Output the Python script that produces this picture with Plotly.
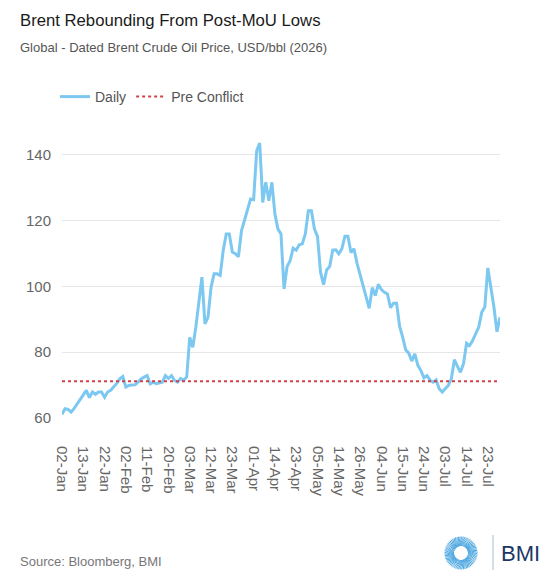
import math
import pandas as pd
import plotly.graph_objects as go

# ---------------- data ----------------
holidays = ["2026-04-03", "2026-04-06", "2026-05-04", "2026-05-25"]

daily = [
    61.1, 62.8, 62.6, 61.8, 62.9, 64.4, 65.9, 67.0, 68.4, 66.2,
    67.9, 67.2, 67.9, 67.9, 66.3, 67.9, 68.4, 69.4, 70.5, 71.9,
    72.6, 69.4, 69.9, 70.0, 70.1, 70.9, 71.9, 72.4, 72.9, 70.4,
    70.9, 70.4, 70.6, 70.9, 72.9, 72.0, 72.9, 71.4, 70.9, 72.0,
    71.4, 72.5, 84.5, 81.5, 87.6, 95.0, 102.8, 88.6, 90.6, 99.7,
    103.8, 103.8, 103.3, 110.9, 115.9, 115.9, 110.4, 109.9, 109.0, 116.9,
    119.9, 123.0, 126.5, 126.3, 141.2, 143.5, 125.5, 131.6, 126.0, 131.6,
    122.0, 117.4, 115.9, 99.2, 106.0, 107.8, 111.6, 111.0, 112.6, 112.9,
    115.9, 123.0, 123.0, 117.4, 115.2, 104.3, 100.5, 105.0, 106.0, 111.0,
    111.1, 109.9, 111.4, 115.2, 115.2, 110.3, 111.4, 107.0, 103.5, 100.5,
    97.0, 93.3, 99.6, 97.2, 100.6, 99.0, 98.2, 97.7, 93.5, 94.9,
    94.9, 87.8, 84.6, 80.7, 79.7, 77.3, 79.5, 76.0, 74.4, 72.2,
    72.9, 71.5, 70.9, 71.6, 68.9, 67.9, 68.9, 69.9, 71.9, 77.7,
    75.7, 73.9, 76.5, 82.7, 82.0, 83.5, 85.6, 87.6, 92.1, 93.7,
    105.6, 99.7, 93.7, 86.2, 90.6,
]
pre_conflict = 71.2

dates = pd.bdate_range("2026-01-02", periods=len(daily), freq="C", holidays=holidays)
labels = [d.strftime("%d-%b") for d in dates]
tick_labels = labels[::7]

# ---------------- geometry helpers ----------------
W, H = 560, 582
ML, MR, MT, MB = 62, 60, 130, 164
PW, PH = W - ML - MR, H - MT - MB


def px(x):
    return (x - ML) / PW


def py(y):
    return (H - MB - y) / PH


fig = go.Figure()
fig.add_trace(go.Scatter(
    x=labels, y=daily, mode="lines", name="Daily",
    line=dict(color="#7cc8f0", width=3),
))
fig.add_trace(go.Scatter(
    x=labels, y=[pre_conflict] * len(labels), mode="lines", name="Pre Conflict",
    line=dict(color="#d2404a", width=2, dash="dot"),
))

shapes = []
# BMI logo (sunburst)
cx, cy = 461, 553
n = 64
for k in range(n):
    a = 2 * math.pi * k / n
    r0, r1 = 7, 16.5
    x0, y0 = cx + r0 * math.cos(a), cy + r0 * math.sin(a)
    x1, y1 = cx + r1 * math.cos(a + 0.35), cy + r1 * math.sin(a + 0.35)
    shapes.append(dict(type="line", xref="paper", yref="paper",
                       x0=px(x0), y0=py(y0), x1=px(x1), y1=py(y1),
                       line=dict(color="#4aa6e0", width=1)))
shapes.append(dict(type="line", xref="paper", yref="paper",
                   x0=px(493), y0=py(535), x1=px(493), y1=py(570),
                   line=dict(color="#a9bcd0", width=1)))

annotations = [
    dict(text="Brent Rebounding From Post-MoU Lows", x=px(18), y=py(20),
         xref="paper", yref="paper", xanchor="left", yanchor="middle", showarrow=False,
         font=dict(family="Liberation Sans", size=16.7, color="#1a1a1a")),
    dict(text="Global - Dated Brent Crude Oil Price, USD/bbl (2026)", x=px(18), y=py(48),
         xref="paper", yref="paper", xanchor="left", yanchor="middle", showarrow=False,
         font=dict(family="Liberation Sans", size=13, color="#555555")),
    dict(text="Source: Bloomberg, BMI", x=px(18), y=py(561),
         xref="paper", yref="paper", xanchor="left", yanchor="middle", showarrow=False,
         font=dict(family="Liberation Sans", size=13, color="#777777")),
    dict(text="BMI", x=px(499), y=py(553),
         xref="paper", yref="paper", xanchor="left", yanchor="middle", showarrow=False,
         font=dict(family="Liberation Sans", size=22, color="#1b3768")),
]

fig.update_layout(
    width=W, height=H,
    margin=dict(l=ML, r=MR, t=MT, b=MB),
    paper_bgcolor="white", plot_bgcolor="white",
    showlegend=True,
    legend=dict(orientation="h", x=px(55), y=py(81), xanchor="left", yanchor="top",
                font=dict(family="Liberation Sans", size=14, color="#555555"),
                itemwidth=30, bgcolor="rgba(0,0,0,0)"),
    shapes=shapes,
    annotations=annotations,
    xaxis=dict(type="category", range=[0, len(labels) - 1],
               tickmode="array", tickvals=tick_labels, ticktext=tick_labels,
               tickangle=90, showgrid=False, zeroline=False, showline=False,
               ticks="", ticklabelstandoff=27,
               tickfont=dict(family="Liberation Sans", size=15, color="#666666")),
    yaxis=dict(range=[60, 147.5], tickvals=[60, 80, 100, 120, 140],
               showgrid=True, gridcolor="#e6e6e6", gridwidth=1, zeroline=False,
               showline=False, ticks="", ticklabelstandoff=10,
               tickfont=dict(family="Liberation Sans", size=15, color="#666666")),
)

fig.write_html("out.html", config={"displayModeBar": False},
               post_script="document.body.style.margin='0px';")
